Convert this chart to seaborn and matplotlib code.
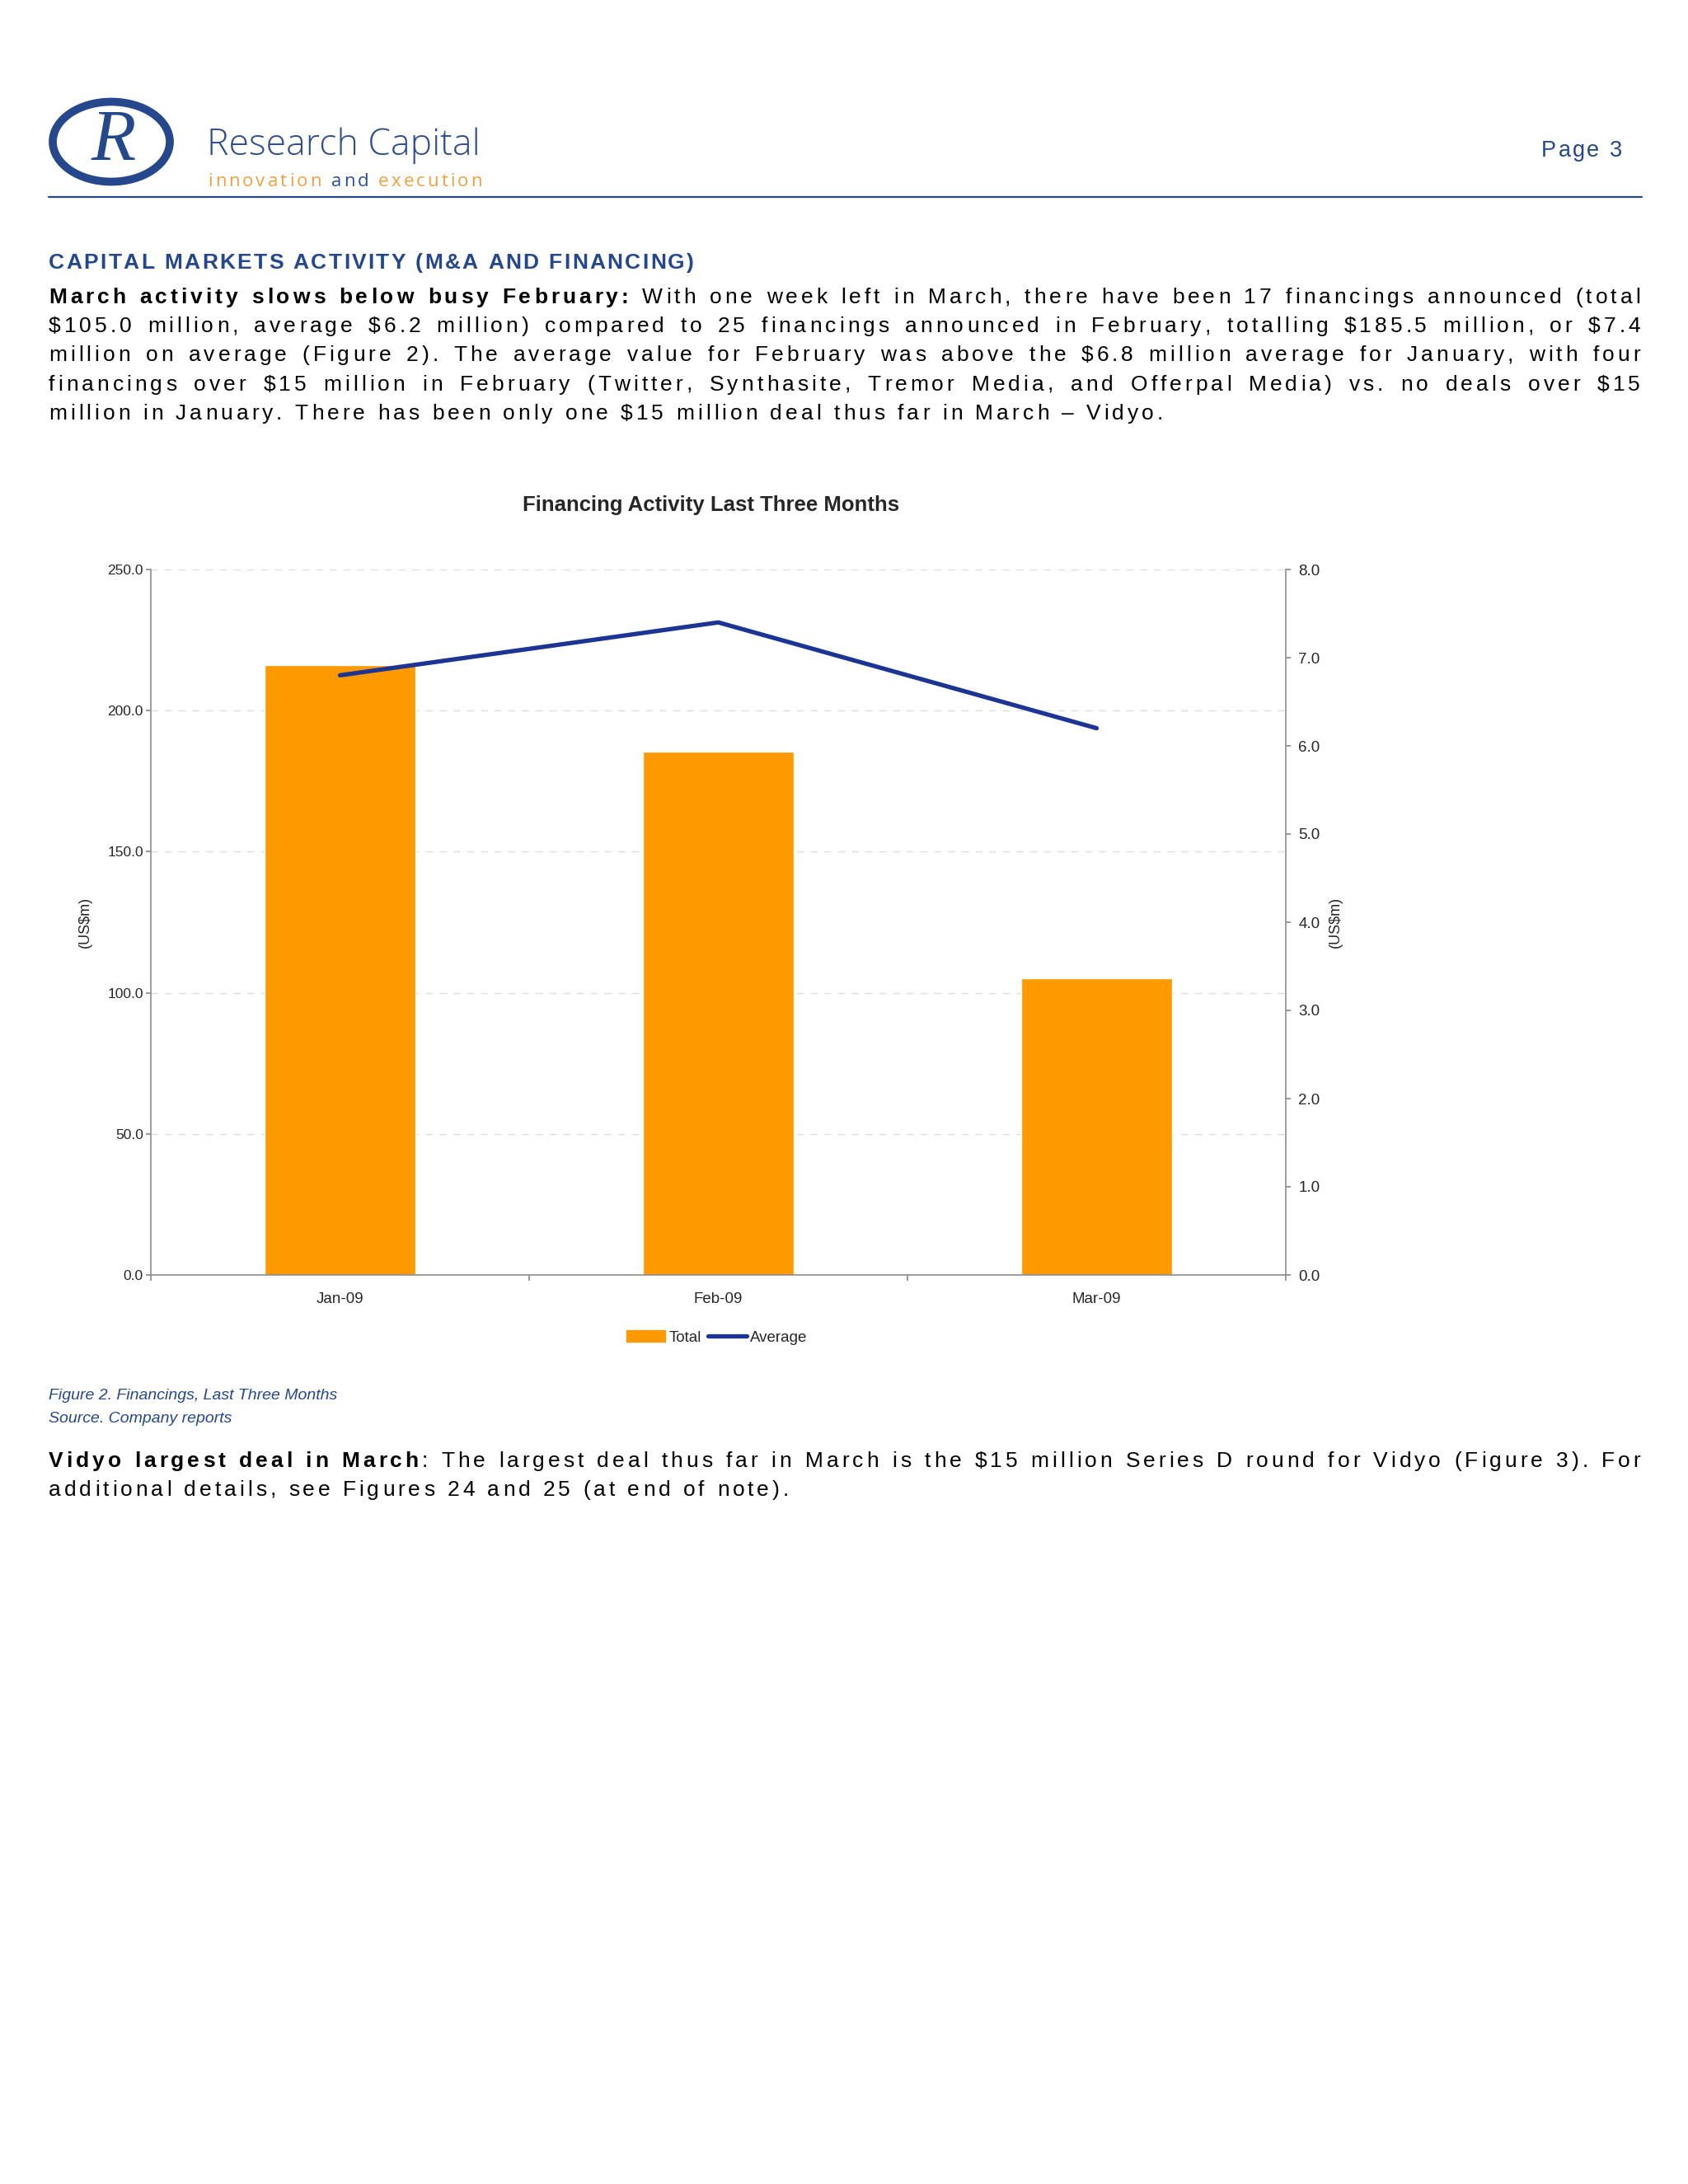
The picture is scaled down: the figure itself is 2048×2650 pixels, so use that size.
import numpy as np
import pandas as pd
import matplotlib
matplotlib.use('Agg')
import matplotlib.pyplot as plt
import seaborn as sns
from matplotlib.patches import Ellipse, Patch
from matplotlib.lines import Line2D

# chart data
months = ['Jan-09', 'Feb-09', 'Mar-09']
total = [216.0, 185.5, 105.0]
average = [6.8, 7.4, 6.2]
left_ticks = [0, 50, 100, 150, 200, 250]
right_ticks = [0, 1, 2, 3, 4, 5, 6, 7, 8]

W, H = 2048, 2650
BLUE = '#25478C'
ORANGE = '#FF9900'
LINE = '#1C3494'
GREY = '#8C8C8C'
BODY = ['Liberation Sans', 'DejaVu Sans']
BODY_SIZE = 19

sns.set_theme(style='white')
plt.rcParams['font.family'] = BODY

fig = plt.figure(figsize=(W / 100, H / 100), dpi=100, facecolor='white')
renderer = fig.canvas.get_renderer()


def fx(x):
    return x / W


def fy(y):
    return 1 - y / H


_adv = {}


def advance(c, wt, size, family):
    key = (c, wt, size, tuple(family))
    if key not in _adv:
        ws = []
        for s in ('H' + c + 'H', 'HH'):
            t = fig.text(0, 0, s, fontsize=size, fontweight=wt, family=family, parse_math=False)
            ws.append(t.get_window_extent(renderer).width)
            t.remove()
        _adv[key] = ws[0] - ws[1]
    return _adv[key]


def put_line(segments, y, x0, x1, size=BODY_SIZE, family=BODY, track=None):
    """Letter-spaced line between x0 and x1 (pixels); with a given track the
    remaining room goes into the word spaces (justified)."""
    chars = [(c, wt, col) for txt, wt, col in segments for c in txt]
    advs = [advance(c, wt, size, family) for c, wt, col in chars]
    n_sp = sum(c == ' ' for c, _, _ in chars)
    slack = x1 - x0 - sum(advs)
    if track is None:
        track = slack / (len(chars) - 1)
        extra = 0
    else:
        extra = (slack - track * (len(chars) - 1)) / max(n_sp, 1)
    x = x0
    for (c, wt, col), a in zip(chars, advs):
        if c != ' ':
            fig.text(fx(x + a / 2), fy(y), c, fontsize=size, fontweight=wt, color=col,
                     family=family, ha='center', va='baseline', parse_math=False)
        x += a + track + (extra if c == ' ' else 0)
    return track


# ---------------------------
# Header
# ---------------------------
fig.add_artist(Ellipse((fx(135), fy(172)), 142 / W, 97 / H, transform=fig.transFigure,
                       fill=False, edgecolor=BLUE, lw=7))
fig.text(fx(138), fy(172), 'R', family=['Liberation Serif', 'DejaVu Serif'], style='italic',
         fontsize=64, color=BLUE, ha='center', va='center')
fig.text(fx(251), fy(188), 'Research Capital', family=['Open Sans', 'DejaVu Sans'],
         fontweight='light', fontsize=32, color='#2F4E8E', va='baseline', ha='left')
put_line([('innovation', 'normal', '#F0A040'), (' and ', 'normal', '#2F4E8E'),
          ('execution', 'normal', '#F0A040')], 226, 252, 585, size=16,
         family=['Open Sans', 'DejaVu Sans'])
put_line([('Page 3', 'normal', BLUE)], 190, 1870, 1968, size=19.5)
fig.add_artist(Line2D([fx(59), fx(1992)], [fy(239), fy(239)], color=BLUE, lw=1.6))

# ---------------------------
# Text above the chart
# ---------------------------
put_line([('CAPITAL MARKETS ACTIVITY (M&A AND FINANCING)', 'bold', BLUE)], 326, 59, 842, size=19)

para = [
    [('March activity slows below busy February:', 'bold', 'black'),
     (' With one week left in March, there have been 17 financings announced (total', 'normal', 'black')],
    [('$105.0 million, average $6.2 million) compared to 25 financings announced in February, '
      'totalling $185.5 million, or $7.4', 'normal', 'black')],
    [('million on average (Figure 2). The average value for February was above the $6.8 million '
      'average for January, with four', 'normal', 'black')],
    [('financings over $15 million in February (Twitter, Synthasite, Tremor Media, and Offerpal '
      'Media) vs. no deals over $15', 'normal', 'black')],
    [('million in January. There has been only one $15 million deal thus far in March \u2013 Vidyo.',
      'normal', 'black')],
]
trk = put_line(para[-1], 368 + 35.2 * 4, 59, 1411)
for i, segs in enumerate(para[:-1]):
    put_line(segs, 368 + 35.2 * i, 59, 1990, track=trk)

# ---------------------------
# Chart
# ---------------------------
df = pd.DataFrame({'month': months, 'total': total, 'average': average})
ax = fig.add_axes([fx(183), fy(1547), (1560 - 183) / W, (1547 - 691) / H])
sns.barplot(data=df, x='month', y='total', color=ORANGE, width=0.4, saturation=1, ax=ax)
ax2 = ax.twinx()
sns.lineplot(x=np.arange(len(months)), y=df['average'], color=LINE, lw=3.8, ax=ax2,
             solid_capstyle='round')

ax.set_xlim(-0.5, len(months) - 0.5)
ax.set_ylim(left_ticks[0], left_ticks[-1])
ax2.set_ylim(right_ticks[0], right_ticks[-1])
ax.set_facecolor('white')
ax.set_axisbelow(True)
ax.yaxis.grid(True, ls=(0, (6, 6)), color='#DCDCDC', lw=1.0)
ax.xaxis.grid(False)

ax.set_xticks(np.arange(len(months) + 1) - 0.5)
ax.set_xticklabels([])
ax.set_xticks(np.arange(len(months)), minor=True)
ax.set_xticklabels(months, minor=True)
ax.tick_params(axis='x', which='major', bottom=True, length=5, color=GREY, direction='out')
ax.tick_params(axis='x', which='minor', bottom=True, length=0, pad=15, labelsize=13.5)
ax.set_yticks(left_ticks)
ax.set_yticklabels([f'{v:.1f}' for v in left_ticks])
ax.tick_params(axis='y', left=True, length=4, color=GREY, direction='out', labelsize=12.5, pad=2.5)
ax2.set_yticks(right_ticks)
ax2.set_yticklabels([f'{v:.1f}' for v in right_ticks])
ax2.tick_params(axis='y', right=True, length=4, color=GREY, direction='out', labelsize=13.5, pad=7)
ax.set_xlabel('')
ax.set_ylabel('')
ax2.set_xlabel('')
ax2.set_ylabel('')
for a in (ax, ax2):
    a.spines['top'].set_visible(False)
    for s in ('left', 'right', 'bottom'):
        a.spines[s].set_color(GREY)
        a.spines[s].set_linewidth(1.2)
ax.spines['right'].set_visible(False)
ax2.spines['left'].set_visible(False)
ax2.spines['bottom'].set_visible(False)

fig.text(fx(863), fy(613), 'Financing Activity Last Three Months', ha='center', va='center',
         fontsize=18.5, fontweight='bold')
fig.text(fx(103), fy(1119), '(US$m)', rotation=90, ha='center', va='center', fontsize=13)
fig.text(fx(1620), fy(1119), '(US$m)', rotation=90, ha='center', va='center', fontsize=13)

handles = [Patch(color=ORANGE, label='Total'),
           Line2D([], [], color=LINE, lw=3.8, solid_capstyle='round', label='Average')]
fig.legend(handles=handles, loc='center', bbox_to_anchor=(fx(870), fy(1623)), ncol=2,
           frameon=False, fontsize=13.5, handlelength=2.5, handletextpad=0.25, columnspacing=0.4)

# ---------------------------
# Caption and closing paragraph
# ---------------------------
CAP = ['Liberation Sans Narrow', 'Liberation Sans', 'DejaVu Sans']
fig.text(fx(59), fy(1694), 'Figure 2. Financings, Last Three Months', family=CAP, style='italic',
         color=BLUE, fontsize=14, va='center', ha='left')
fig.text(fx(59), fy(1721), 'Source. Company reports', family=CAP, style='italic',
         color=BLUE, fontsize=14, va='center', ha='left')

trk = put_line([('additional details, see Figures 24 and 25 (at end of note).', 'normal', 'black')],
               1815, 59, 957)
put_line([('Vidyo largest deal in March', 'bold', 'black'),
          (': The largest deal thus far in March is the $15 million Series D round for Vidyo '
           '(Figure 3). For', 'normal', 'black')], 1780, 59, 1990, track=trk)

fig.savefig('out.png', dpi=100, facecolor='white')
